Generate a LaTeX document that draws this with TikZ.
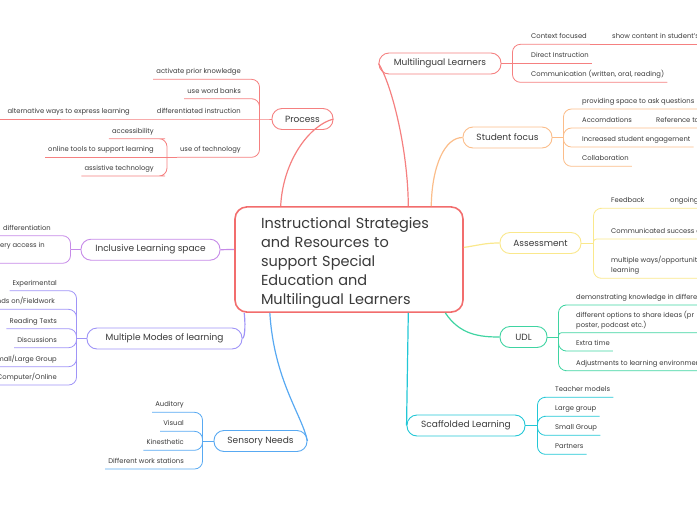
\documentclass[tikz,border=0pt]{standalone}
\usepackage{fontspec}
\setmainfont{Poppins}
\usetikzlibrary{calc}
\definecolor{ink}{RGB}{58,58,58}
\definecolor{hubred}{RGB}{242,109,109}
\definecolor{procred}{RGB}{245,128,128}
\definecolor{peach}{RGB}{251,189,138}
\definecolor{sun}{RGB}{250,232,140}
\definecolor{mint}{RGB}{63,212,162}
\definecolor{aqua}{RGB}{34,199,214}
\definecolor{sky}{RGB}{88,169,242}
\definecolor{lavender}{RGB}{159,148,247}
\definecolor{orchid}{RGB}{198,138,232}

\tikzset{
    hubbox/.style={draw=hubred, line width=1.6pt, rounded corners=12pt, fill=white, text=ink,
        font=\fontsize{14.5}{19}\selectfont, text width=176pt, align=left, text height=18.6pt,
        minimum width=228pt, minimum height=105pt},
    topic/.style={draw=#1, line width=0.9pt, rounded corners=10pt, fill=white, text=ink,
        font=\fontsize{9}{10}\selectfont, minimum height=21pt, inner xsep=2pt},
    leafR/.style={anchor=south west, text=ink, font=\fontsize{6.8}{9.7}\selectfont,
        inner xsep=3pt, inner ysep=5.5pt, text depth=0pt, align=left},
    leafL/.style={leafR, anchor=south east, align=right},
    link/.style={draw=#1, line width=1.2pt},
    twig/.style={draw=#1, line width=0.8pt, rounded corners=8pt},
}

\begin{document}
\begin{tikzpicture}[x=1pt,y=-1pt]
    \useasboundingbox (0,0) rectangle (697,520);
    \clip (0,0) rectangle (697,520);
    \coordinate (edgeL) at (-5,0);
    \coordinate (edgeR) at (702,0);

    \node[hubbox] (hub) at (349,259.5) {Instructional Strategies\\and Resources to\\support Special\\Education and\\Multilingual Learners};

    % main topics
    \node[topic=procred, minimum width=61pt] (process) at (302.5,119) {Process};
    \node[topic=procred, minimum width=122pt] (multi) at (440,63.5) {Multilingual Learners};
    \node[topic=peach, minimum width=89pt] (student) at (507.5,137.5) {Student focus};
    \node[topic=sun, minimum width=81pt] (assess) at (540.5,243) {Assessment};
    \node[topic=mint, minimum width=47pt] (udl) at (523.5,337) {UDL};
    \node[topic=aqua, minimum width=118pt] (scaff) at (466,425.5) {Scaffolded Learning};
    \node[topic=sky, minimum width=93pt] (sense) at (260.5,441) {Sensory Needs};
    \node[topic=lavender, minimum width=155pt] (modes) at (164.5,338.5) {Multiple Modes of learning};
    \node[topic=orchid, minimum width=139pt] (incl) at (150.5,249.7) {Inclusive Learning space};

    \draw[link=procred] (hub.142) .. controls (283,160) and (310,125) .. (process.east);
    \draw[link=procred] (hub.42) .. controls (408,150) and (392,85) .. (multi.west);
    \draw[link=peach] (hub.33) .. controls (432,165) and (445,137.5) .. (student.west);
    \draw[link=sun] (hub.6) .. controls (480,245) and (485,243) .. (assess.west);
    \draw[link=mint] (hub.331) .. controls (460,335) and (480,337) .. (udl.west);
    \draw[link=aqua] (hub.318) -- (scaff.west);
    \draw[link=sky] (hub.214) .. controls (274,380) and (302,415) .. (sense.east);
    \draw[link=lavender] (hub.207) .. controls (246,330) and (244,338.5) .. (modes.east);
    \draw[link=orchid] (hub.175) -- (incl.east);

    % Process
    \coordinate (jProc) at ([xshift=-12pt]process.west);
    \coordinate (jTech) at (167,157.3);
    \node[leafL] (prior) at (244,79.3) {activate prior knowledge};
    \node[leafL] (banks) at (244,98.7) {use word banks};
    \node[leafL] (diffi) at (244,119) {differentiated instruction};
    \node[leafL] (alt) at (133,119) {alternative ways to express learning};
    \node[leafL] (tech) at (244,157.3) {use of technology};
    \node[leafL] (access) at (157,138.7) {accessibility};
    \node[leafL] (online) at (157,157.3) {online tools to support learning};
    \node[leafL] (assist) at (157,176) {assistive technology};
    \draw[twig=procred] (process.west) -- (jProc) -- (diffi.south east) -- (diffi.south west) -- (alt.south east) -- (edgeL |- alt.south);
    \foreach \n in {prior,banks,tech}
        \draw[twig=procred] (jProc) |- (\n.south east) -- (\n.south west);
    \draw[twig=procred] (tech.south west) -- (jTech) -- (online.south east) -- (online.south west);
    \foreach \n in {access,assist}
        \draw[twig=procred] (jTech) |- (\n.south east) -- (\n.south west);

    % Multilingual Learners
    \coordinate (jMulti) at ([xshift=11pt]multi.east);
    \node[leafR] (ctx) at (528,44.3) {Context focused};
    \node[leafR] (ctxA) at (609,44.3) {show content in student's};
    \node[leafR] (direct) at (528,63.5) {Direct Instruction};
    \node[leafR] (comm) at (528,82.3) {Communication (written, oral, reading)};
    \draw[twig=procred] (multi.east) -- (jMulti) -- (direct.south west) -- (direct.south east);
    \foreach \n in {ctx,comm}
        \draw[twig=procred] (jMulti) |- (\n.south west) -- (\n.south east);
    \draw[twig=procred] (ctx.south east) -- (edgeR |- ctxA.south);

    % Student focus
    \coordinate (jStud) at ([xshift=11pt]student.east);
    \node[leafR] (space) at (579,109) {providing space to ask questions};
    \node[leafR] (accom) at (579,128) {Accomdations};
    \node[leafR] (accomA) at (653,128) {Reference to};
    \node[leafR] (engage) at (579,147) {Increased student engagement};
    \node[leafR] (collab) at (579,166.3) {Collaboration};
    \draw[twig=peach] (student.east) -- (jStud);
    \foreach \n in {engage,collab}
        \draw[twig=peach] (jStud) |- (\n.south west) -- (\n.south east);
    \foreach \n in {space,accom}
        \draw[twig=peach] (jStud) |- (\n.south west) -- (edgeR |- \n.south);

    % Assessment
    \coordinate (jAss) at ([xshift=12pt]assess.east);
    \node[leafR] (feed) at (608,208.3) {Feedback};
    \node[leafR] (feedA) at (667,208.3) {ongoing};
    \node[leafR] (crit) at (608,239) {Communicated success c};
    \node[leafR] (ways) at (608,278.3) {multiple ways/opportunit\\learning};
    \draw[twig=sun] (assess.east) -- (jAss);
    \foreach \n in {feed,ways}
        \draw[twig=sun] (jAss) |- (\n.south west) -- (edgeR |- \n.south);
    \draw[twig=sun, rounded corners=3pt] (jAss) |- (crit.south west) -- (edgeR |- crit.south);

    % UDL
    \coordinate (jUdl) at ([xshift=11pt]udl.east);
    \node[leafR] (demo) at (573,305) {demonstrating knowledge in differe};
    \node[leafR] (share) at (573,332.7) {different options to share ideas (pr\\poster, podcast etc.)};
    \node[leafR] (extra) at (573,351) {Extra time};
    \node[leafR] (adjust) at (573,370.7) {Adjustments to learning environmen};
    \draw[twig=mint] (udl.east) -- (jUdl);
    \foreach \n in {demo,adjust}
        \draw[twig=mint] (jUdl) |- (\n.south west) -- (edgeR |- \n.south);
    \draw[twig=mint, rounded corners=3pt] (jUdl) |- (share.south west) -- (edgeR |- share.south);
    \draw[twig=mint] (jUdl) |- (extra.south west) -- (extra.south east);

    % Scaffolded Learning
    \coordinate (jScaff) at ([xshift=12pt]scaff.east);
    \node[leafR] (teach) at (552,397.3) {Teacher models};
    \node[leafR] (large) at (552,416.3) {Large group};
    \node[leafR] (small) at (552,435.3) {Small Group};
    \node[leafR] (pairs) at (552,454.3) {Partners};
    \draw[twig=aqua] (scaff.east) -- (jScaff);
    \foreach \n in {teach,large,small,pairs}
        \draw[twig=aqua] (jScaff) |- (\n.south west) -- (\n.south east);

    % Sensory Needs
    \coordinate (jSense) at ([xshift=-11pt]sense.west);
    \node[leafL] (audio) at (187,412.3) {Auditory};
    \node[leafL] (visual) at (187,431.3) {Visual};
    \node[leafL] (kines) at (187,450.3) {Kinesthetic};
    \node[leafL] (work) at (187,469) {Different work stations};
    \draw[twig=sky] (sense.west) -- (jSense);
    \foreach \n in {audio,visual,kines,work}
        \draw[twig=sky] (jSense) |- (\n.south east) -- (\n.south west);

    % Multiple Modes of learning
    \coordinate (jModes) at ([xshift=-10pt]modes.west);
    \node[leafL] (exper) at (60,290.7) {Experimental};
    \node[leafL] (hands) at (58,309.3) {Hands on/Fieldwork};
    \node[leafL] (texts) at (60,328.7) {Reading Texts};
    \node[leafL] (talks) at (60,347.7) {Discussions};
    \node[leafL] (sized) at (60,366.7) {Small/Large Group};
    \node[leafL] (online2) at (60,385) {Computer/Online};
    \draw[twig=lavender] (modes.west) -- (jModes);
    \foreach \n in {exper,hands,texts,talks,sized,online2}
        \draw[twig=lavender] (jModes) |- (\n.south east) -- (\n.south west);

    % Inclusive Learning space
    \coordinate (jIncl) at ([xshift=-10pt]incl.west);
    \node[leafL] (diffn) at (54,235.7) {differentiation};
    \node[leafR] (reach) at (-3,263.3) {ery access in\\\mbox{}};
    \draw[twig=orchid] (incl.west) -- (jIncl);
    \draw[twig=orchid] (jIncl) |- (diffn.south east) -- (edgeL |- diffn.south);
    \draw[twig=orchid] (jIncl) |- (reach.south east) -- (edgeL |- reach.south);
\end{tikzpicture}
\end{document}
